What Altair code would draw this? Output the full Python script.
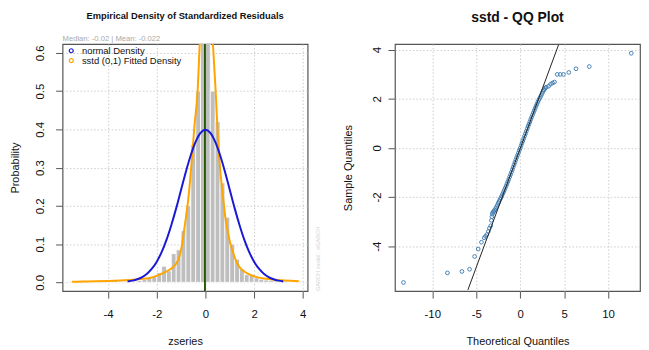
import altair as alt
import pandas as pd

# ---------------- values ----------------
bin_width = 0.2
hist_start = [-5.6, -5.4, -5.2, -5.0, -4.8, -4.6, -4.4, -4.2, -4.0, -3.8, -3.6, -3.4,
              -3.2, -3.0, -2.8, -2.6, -2.4, -2.2, -2.0, -1.8, -1.6, -1.4, -1.2, -1.0,
              -0.8, -0.6, -0.4, -0.2, 0.0, 0.2, 0.4, 0.6, 0.8, 1.0, 1.2, 1.4,
              1.6, 1.8, 2.0, 2.2, 2.4, 2.6, 2.8, 3.0, 3.2, 3.4, 3.6, 3.8]
hist_density = [0.0025, 0.0, 0.005, 0.0025, 0.0, 0.0, 0.0025, 0.0025, 0.0025, 0.005, 0.0025, 0.0025,
                0.005, 0.0025, 0.005, 0.0075, 0.012, 0.015, 0.025, 0.042, 0.03, 0.075, 0.085, 0.135,
                0.2, 0.36, 0.5, 1.0, 1.0, 0.5, 0.42, 0.26, 0.17, 0.1, 0.06, 0.035,
                0.02, 0.018, 0.012, 0.008, 0.006, 0.005, 0.004, 0.0025, 0.0025, 0.0, 0.0025, 0.0025]

normal_x = [-3.2, -3.0, -2.8, -2.6, -2.4, -2.2, -2.0, -1.8, -1.6, -1.4, -1.2, -1.0, -0.8, -0.6, -0.4, -0.2,
            0.0, 0.2, 0.4, 0.6, 0.8, 1.0, 1.2, 1.4, 1.6, 1.8, 2.0, 2.2, 2.4, 2.6, 2.8, 3.0, 3.2]
normal_y = [0.0024, 0.0044, 0.0079, 0.0136, 0.0224, 0.0355, 0.054, 0.079, 0.111, 0.150, 0.194, 0.242,
            0.290, 0.333, 0.368, 0.391, 0.399, 0.391, 0.368, 0.333, 0.290, 0.242, 0.194, 0.150,
            0.111, 0.079, 0.054, 0.0355, 0.0224, 0.0136, 0.0079, 0.0044, 0.0024]

sstd_x = [-5.48, -5.0, -4.5, -4.0, -3.5, -3.0, -2.7, -2.34, -2.0, -1.75, -1.45, -1.25, -1.11, -1.0,
          -0.9, -0.8, -0.7, -0.56, -0.45, -0.32, -0.25, -0.12, 0.03, 0.17, 0.25, 0.33, 0.42, 0.53,
          0.6, 0.71, 0.84, 0.94, 1.05, 1.15, 1.3, 1.45, 1.7, 2.04, 2.4, 2.75, 3.1, 3.5, 3.84]
sstd_y = [0.0015, 0.002, 0.0025, 0.0033, 0.0045, 0.0065, 0.0085, 0.0105, 0.017, 0.024, 0.034, 0.045,
          0.06, 0.085, 0.125, 0.17, 0.22, 0.32, 0.41, 0.5, 0.6, 0.78, 0.92, 0.76, 0.68, 0.6, 0.5,
          0.36, 0.3, 0.23, 0.16, 0.125, 0.095, 0.075, 0.05, 0.036, 0.024, 0.015, 0.01, 0.0075,
          0.0055, 0.004, 0.003]

z_median = -0.02
z_mean = -0.022
model_name = "eGARCH"

qq_theoretical = [-13.28, -8.28, -6.63, -5.76, -5.19, -4.78, -4.41, -4.10, -3.95, -3.80, -3.62, -3.50,
                  -3.35, -3.28, -3.22, -3.17, -3.13,
                  -3.05, -2.98, -2.90, -2.80, -2.70, -2.60, -2.50, -2.40, -2.30, -2.20, -2.10, -2.00,
                  -1.90, -1.80, -1.70, -1.60, -1.50, -1.40, -1.30, -1.20, -1.10, -1.00, -0.90, -0.80,
                  -0.70, -0.60, -0.50, -0.40, -0.30, -0.20, -0.10, 0.00, 0.10, 0.20, 0.30, 0.40, 0.50,
                  0.60, 0.70, 0.80, 0.90, 1.00, 1.10, 1.20, 1.30, 1.40, 1.50, 1.60, 1.70, 1.80, 1.90,
                  2.00, 2.10, 2.20, 2.30, 2.40, 2.50, 2.60, 2.70, 2.80, 2.90, 2.97,
                  3.23, 3.45, 3.68, 3.90, 4.21, 4.55, 4.92, 5.53, 6.35, 7.86, 12.64]
qq_sample = [-5.48, -5.09, -5.03, -4.94, -4.42, -4.12, -3.84, -3.66, -3.60, -3.53, -3.40, -3.27,
             -3.17, -2.95, -2.80, -2.70, -2.64,
             -2.60, -2.57, -2.53, -2.47, -2.40, -2.33, -2.25, -2.18, -2.10, -2.03, -1.96, -1.88,
             -1.80, -1.72, -1.63, -1.55, -1.46, -1.37, -1.28, -1.18, -1.09, -0.99, -0.89, -0.79,
             -0.69, -0.59, -0.49, -0.39, -0.30, -0.20, -0.10, -0.01, 0.09, 0.19, 0.28, 0.38, 0.48,
             0.58, 0.68, 0.78, 0.88, 0.97, 1.06, 1.16, 1.25, 1.34, 1.43, 1.52, 1.61, 1.70, 1.78,
             1.86, 1.94, 2.01, 2.08, 2.15, 2.22, 2.30, 2.36, 2.41, 2.45, 2.47,
             2.51, 2.59, 2.64, 2.68, 2.99, 2.99, 2.99, 3.07, 3.22, 3.31, 3.85]

qqline_theoretical = [-5.95, 4.36]
qqline_sample = [-5.78, 4.19]

left_x_ticks = [-4, -2, 0, 2, 4]
left_y_ticks = [0.0, 0.1, 0.2, 0.3, 0.4, 0.5, 0.6]
right_x_ticks = [-10, -5, 0, 5, 10]
right_y_ticks = [-4, -2, 0, 2, 4]

series_names = ["normal Density", "sstd (0,1) Fitted Density"]
left_title = "Empirical Density of Standardized Residuals"
right_title = "sstd - QQ Plot"

# ---------------- styling ----------------
FONT = "Liberation Sans"
W, H = 247, 249
BLUE = "#1a1ad6"
ORANGE = "#ffa500"
INK = "#111111"

hist_df = pd.DataFrame({"x0": hist_start,
                        "x1": [s + bin_width for s in hist_start],
                        "density": hist_density})
normal_df = pd.DataFrame({"x": normal_x, "y": normal_y, "series": series_names[0]})
sstd_df = pd.DataFrame({"x": sstd_x, "y": sstd_y, "series": series_names[1]})
mean_df = pd.DataFrame({"x": [z_mean]})
median_df = pd.DataFrame({"x": [z_median]})
sub_df = pd.DataFrame({"t": [f"Median:  {z_median} | Mean:  {z_mean}"]})
model_df = pd.DataFrame({"t": [f"GARCH model :  {model_name}"]})
ltitle_df = pd.DataFrame({"t": [left_title]})
rtitle_df = pd.DataFrame({"t": [right_title]})
qq_df = pd.DataFrame({"tq": qq_theoretical, "sq": qq_sample})
qqline_df = pd.DataFrame({"tq": qqline_theoretical, "sq": qqline_sample})

xs_left = alt.Scale(domain=[-5.87, 4.2], nice=False, zero=False)
ys_left = alt.Scale(domain=[-0.023, 0.623], nice=False, zero=False)
xs_right = alt.Scale(domain=[-14.25, 13.63], nice=False, zero=False)
ys_right = alt.Scale(domain=[-5.83, 4.225], nice=False, zero=False)

color_scale = alt.Scale(domain=series_names, range=[BLUE, ORANGE])
legend = alt.Legend(orient="none", legendX=4, legendY=2, title=None,
                    symbolType="circle", symbolSize=16, symbolStrokeWidth=1.2,
                    symbolFillColor="transparent", labelFont=FONT, labelFontSize=9.5,
                    labelColor=INK, labelOffset=6, rowPadding=-1, padding=0)


def x_axis(values, title, label_pad, title_pad):
    return alt.Axis(values=values, title=title, labelExpr="toString(datum.value)",
                    labelPadding=label_pad, titlePadding=title_pad, labelFlush=False,
                    labelOverlap=False)


def y_axis(values, title, label_expr, label_pad, title_pad):
    return alt.Axis(values=values, title=title, labelExpr=label_expr, labelAngle=270,
                    labelAlign="center", labelBaseline="bottom", labelPadding=label_pad,
                    titlePadding=title_pad, labelFlush=False, labelOverlap=False)


bars = alt.Chart(hist_df).mark_bar(color="#bebebe", stroke="white", strokeWidth=0.8,
                                   clip=True).encode(
    x=alt.X("x0:Q", scale=xs_left, axis=x_axis(left_x_ticks, "zseries", 10.5, 15.5)),
    x2="x1:Q",
    y=alt.Y("density:Q", scale=ys_left,
            axis=y_axis(left_y_ticks, "Probability", "format(datum.value, '.1f')", 10, 14)),
    y2=alt.datum(0),
)

sstd_line = alt.Chart(sstd_df).mark_line(strokeWidth=2, clip=True, interpolate="monotone").encode(
    x=alt.X("x:Q", scale=xs_left),
    y=alt.Y("y:Q", scale=ys_left),
    color=alt.Color("series:N", scale=color_scale, legend=legend),
)
normal_line = alt.Chart(normal_df).mark_line(strokeWidth=2, clip=True, interpolate="monotone").encode(
    x=alt.X("x:Q", scale=xs_left),
    y=alt.Y("y:Q", scale=ys_left),
    color=alt.Color("series:N", scale=color_scale, legend=legend),
)
mean_rule = alt.Chart(mean_df).mark_rule(color="red", strokeWidth=1.6).encode(
    x=alt.X("x:Q", scale=xs_left))
median_rule = alt.Chart(median_df).mark_rule(color="#006400", strokeWidth=1.6).encode(
    x=alt.X("x:Q", scale=xs_left))

subtitle = alt.Chart(sub_df).mark_text(align="left", baseline="alphabetic", font=FONT,
                                       fontSize=7.7, color="#a9a9a9").encode(
    x=alt.value(0), y=alt.value(-3), text="t:N")
model_txt = alt.Chart(model_df).mark_text(align="left", baseline="middle", angle=270, font=FONT,
                                          fontSize=5.6, color="#d4d4d4").encode(
    x=alt.value(W + 10), y=alt.value(H), text="t:N")
ltitle = alt.Chart(ltitle_df).mark_text(align="center", baseline="alphabetic", font=FONT,
                                        fontSize=9.4, fontWeight="bold", color=INK).encode(
    x=alt.value(W / 2), y=alt.value(-25.7), text="t:N")

left = alt.layer(bars, sstd_line, mean_rule, median_rule, normal_line, subtitle, model_txt,
                 ltitle).properties(width=W, height=H)

points = alt.Chart(qq_df).mark_point(shape="circle", filled=False, size=14, strokeWidth=1,
                                     color="#4682b4", opacity=1, clip=True).encode(
    x=alt.X("tq:Q", scale=xs_right, axis=x_axis(right_x_ticks, "Theoretical Quantiles", 10.5, 15.5)),
    y=alt.Y("sq:Q", scale=ys_right,
            axis=y_axis(right_y_ticks, "Sample Quantiles", "toString(datum.value)", 5.5, 18.5)),
)
qqline = alt.Chart(qqline_df).mark_line(color="#222222", strokeWidth=1, clip=True).encode(
    x=alt.X("tq:Q", scale=xs_right),
    y=alt.Y("sq:Q", scale=ys_right),
)
rtitle = alt.Chart(rtitle_df).mark_text(align="center", baseline="alphabetic", font=FONT,
                                        fontSize=14, fontWeight="bold", color=INK).encode(
    x=alt.value(W / 2), y=alt.value(-22.7), text="t:N")

right = alt.layer(points, qqline, rtitle).properties(width=W, height=H)

chart = alt.hconcat(left, right, spacing=88, bounds="flush").properties(
    padding={"left": 1, "top": 0, "right": 0, "bottom": 0},
    background="white",
).configure_view(
    stroke="#555555", strokeWidth=1.2,
).configure_axis(
    domain=False, tickColor="#555555", tickSize=7, tickWidth=1,
    labelFont=FONT, labelFontSize=11.5, labelColor=INK,
    titleFont=FONT, titleFontSize=11, titleFontWeight="normal", titleColor=INK,
    grid=True, gridColor="#cccccc", gridDash=[1.5, 2], gridWidth=1,
)

chart.save("out.html", embed_options={"renderer": "svg", "actions": False})
